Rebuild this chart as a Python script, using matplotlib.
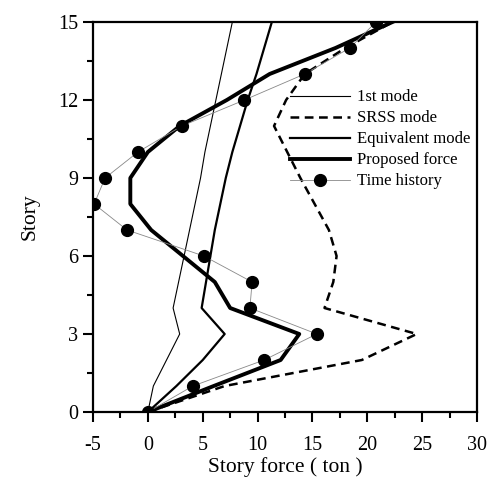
import matplotlib
matplotlib.use("Agg")
import matplotlib.pyplot as plt
from matplotlib.ticker import MultipleLocator

plt.rcParams["font.family"] = ["Liberation Serif", "DejaVu Serif"]
plt.rcParams["axes.unicode_minus"] = False

stories = list(range(16))
first_mode = [0, 0.5, 1.7, 2.9, 2.3, 2.8, 3.3, 3.8, 4.3, 4.8, 5.2, 5.7, 6.2, 6.7, 7.2, 7.7]
srss_mode = [0, 7.0, 19.5, 24.5, 16.1, 16.9, 17.2, 16.5, 15.2, 13.9, 12.7, 11.5, 12.6, 14.3, 18.0, 22.3]
equivalent_mode = [0, 2.6, 5.0, 7.0, 4.9, 5.3, 5.7, 6.1, 6.6, 7.1, 7.7, 8.4, 9.1, 9.9, 10.6, 11.3]
proposed_force = [0, 6.0, 12.1, 13.8, 7.5, 6.1, 3.2, 0.3, -1.6, -1.6, 0.0, 2.9, 7.2, 11.1, 17.1, 22.3]
time_history = [0, 4.1, 10.6, 15.4, 9.3, 9.5, 5.1, -1.9, -4.9, -3.9, -0.9, 3.1, 8.8, 14.3, 18.4, 20.8]

fig = plt.figure(figsize=(4.88, 4.82), dpi=100)
ax = fig.add_axes([0.1906, 0.1452, 0.7869, 0.8092])

ax.plot(first_mode, stories, color="black", lw=0.8, label="1st mode")
ax.plot(srss_mode, stories, color="black", lw=1.8, ls=(0, (3.5, 2.2)), label="SRSS mode")
ax.plot(equivalent_mode, stories, color="black", lw=1.6, label="Equivalent mode")
ax.plot(proposed_force, stories, color="black", lw=2.8, label="Proposed force")
ax.plot(time_history, stories, color="#888888", lw=0.6, marker="o", ms=8.5,
        mfc="black", mec="black", label="Time history")

ax.set_xlim(-5, 30)
ax.set_ylim(0, 15)
ax.xaxis.set_major_locator(MultipleLocator(5))
ax.xaxis.set_minor_locator(MultipleLocator(2.5))
ax.yaxis.set_major_locator(MultipleLocator(3))
ax.yaxis.set_minor_locator(MultipleLocator(1.5))
ax.tick_params(which="both", direction="out", width=1.5, labelsize=14.5)
ax.tick_params(which="major", length=7)
ax.tick_params(which="minor", length=4)
ax.tick_params(axis="x", which="major", pad=10)
for sp in ax.spines.values():
    sp.set_linewidth(1.6)

ax.set_xlabel("Story force ( ton )", fontsize=15.5, labelpad=2)
ax.set_ylabel("Story", fontsize=15.5, labelpad=13)

ax.legend(loc="upper left", bbox_to_anchor=(0.513, 0.827), frameon=False,
          fontsize=12, handlelength=3.6, handletextpad=0.4, labelspacing=0.3,
          borderpad=0, borderaxespad=0)

fig.savefig("out.png", dpi=100)
